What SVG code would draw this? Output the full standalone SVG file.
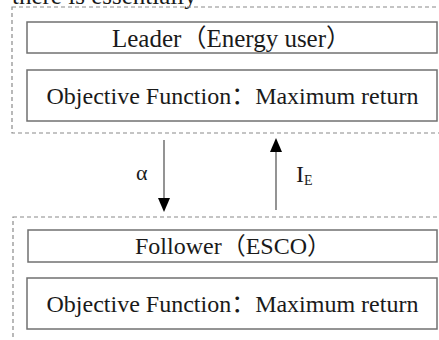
<svg xmlns="http://www.w3.org/2000/svg" width="439" height="340" viewBox="0 0 439 340">
  <style>
    .t { font-family: "Liberation Serif", "Noto Sans CJK SC", serif; fill: #1a1a1a; }
    .box { fill: #ffffff; stroke: #707070; stroke-width: 1.5; }
    .outer { fill: none; stroke: #8a8a8a; stroke-width: 1.2; stroke-dasharray: 4 3; }
    .conn { stroke: #5a5a5a; stroke-width: 1.3; fill: none; }
    .head { fill: #000000; }
  </style>
  <rect x="0" y="0" width="439" height="340" fill="#ffffff"/>
  <text class="t" x="12" y="4" font-size="25">there is essentially</text>

  <g id="leader-layer">
    <rect class="outer" x="12" y="7" width="460" height="126"/>
  </g>
  <g id="leader">
    <rect class="box" x="27" y="22" width="410" height="31"/>
    <text class="t" x="112" y="47" font-size="25">Leader（Energy user）</text>
  </g>
  <g id="leader-objective">
    <rect class="box" x="27" y="70" width="410" height="51"/>
    <text class="t" x="46.5" y="104" font-size="24">Objective Function：Maximum return</text>
  </g>

  <g id="follower-layer">
    <rect class="outer" x="13" y="217" width="460" height="160"/>
  </g>
  <g id="follower">
    <rect class="box" x="28" y="230" width="409" height="32"/>
    <text class="t" x="135" y="254" font-size="24">Follower（ESCO）</text>
  </g>
  <g id="follower-objective">
    <rect class="box" x="27" y="278" width="410" height="51"/>
    <text class="t" x="46.5" y="312" font-size="24">Objective Function：Maximum return</text>
  </g>

  <g id="connectors">
    <line class="conn" x1="164" y1="140" x2="164" y2="200"/>
    <polygon class="head" points="158,198 170,198 164,212"/>
    <text class="t" x="136" y="180" font-size="22">α</text>

    <line class="conn" x1="276" y1="150" x2="276" y2="210"/>
    <polygon class="head" points="270,152 282,152 276,138"/>
    <text class="t" x="296" y="182" font-size="24">I<tspan font-size="14" dy="3">E</tspan></text>
  </g>
</svg>
